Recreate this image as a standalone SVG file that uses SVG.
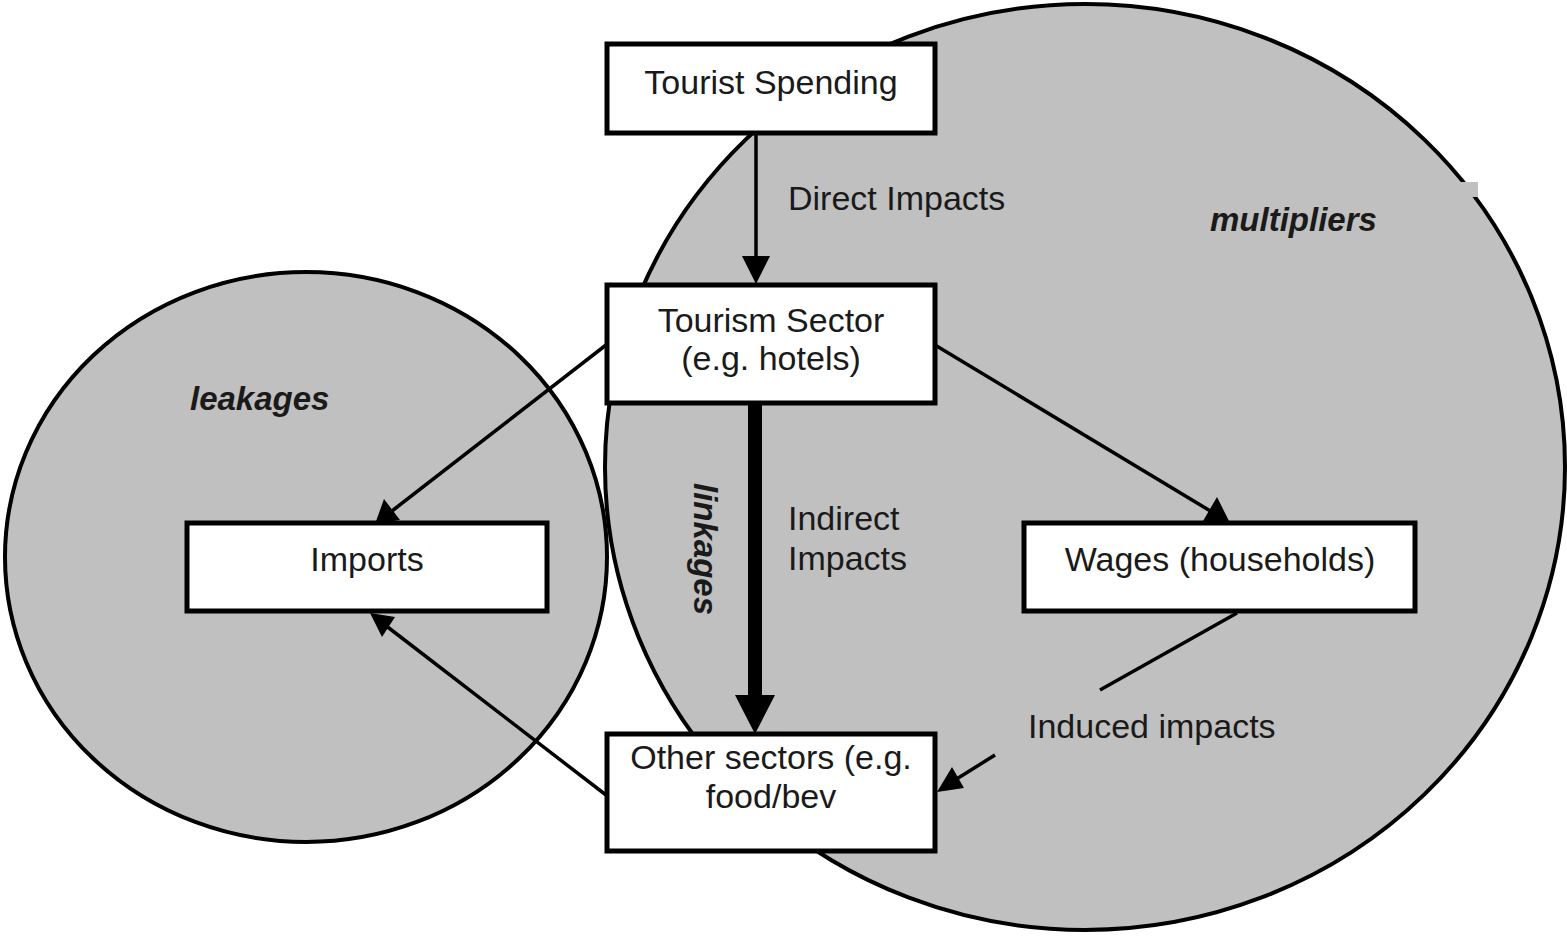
<svg xmlns="http://www.w3.org/2000/svg" width="1567" height="936" viewBox="0 0 1567 936">
<defs>
<style>
.bg{fill:#c0c0c0;stroke:#000;stroke-width:4}
.box{fill:#fff;stroke:#000;stroke-width:5}
.t{font-family:"Liberation Sans",Arial,sans-serif;font-size:34px;fill:#1a1a1a}
.bi{font-family:"Liberation Sans",Arial,sans-serif;font-size:33px;font-weight:bold;font-style:italic;fill:#1a1a1a}
.ln{stroke:#000;stroke-width:3.5;fill:none}
.hd{fill:#000}
</style>
</defs>
<rect width="1567" height="936" fill="#fff"/>
<g id="multipliers-region">
<ellipse class="bg" cx="1085" cy="467" rx="480" ry="463"/>
<rect x="1456" y="182" width="22" height="15" fill="#c0c0c0"/>
<text class="bi" x="1210" y="231">multipliers</text>
</g>
<g id="leakages-region">
<ellipse class="bg" cx="306" cy="557" rx="301" ry="285"/>
<text class="bi" x="190" y="410">leakages</text>
</g>
<g id="connectors">
<line class="ln" x1="756" y1="135" x2="756" y2="262"/>
<polygon class="hd" points="742,256 770,256 756,284"/>
<line class="ln" x1="606" y1="345" x2="392" y2="511"/>
<polygon class="hd" points="375,524 384,499 400,520"/>
<line class="ln" x1="935" y1="345" x2="1212" y2="512"/>
<polygon class="hd" points="1230,523 1203,521 1217,497"/>
<line stroke="#000" stroke-width="14" x1="755" y1="405" x2="755" y2="700"/>
<polygon class="hd" points="735,695 775,695 755,734"/>
<line class="ln" x1="606" y1="795" x2="385" y2="625"/>
<polygon class="hd" points="370,613 395,617 382,637"/>
<line class="ln" x1="1237" y1="613" x2="1100" y2="690"/>
<line class="ln" x1="995" y1="755" x2="955" y2="780"/>
<polygon class="hd" points="937,792 952,767 964,788"/>
<text class="t" x="788" y="210">Direct Impacts</text>
<text class="t" x="788" y="530">Indirect</text>
<text class="t" x="788" y="570">Impacts</text>
<text class="t" x="1028" y="738">Induced impacts</text>
<text class="bi" transform="translate(694,483) rotate(90)">linkages</text>
</g>
<g id="tourist-spending">
<rect class="box" x="607" y="44" width="328" height="89"/>
<text class="t" x="771" y="94" text-anchor="middle">Tourist Spending</text>
</g>
<g id="tourism-sector">
<rect class="box" x="607" y="285" width="328" height="118"/>
<text class="t" x="771" y="332" text-anchor="middle">Tourism Sector</text>
<text class="t" x="771" y="370" text-anchor="middle">(e.g. hotels)</text>
</g>
<g id="imports">
<rect class="box" x="187" y="523" width="360" height="88"/>
<text class="t" x="367" y="571" text-anchor="middle">Imports</text>
</g>
<g id="wages">
<rect class="box" x="1024" y="523" width="391" height="88"/>
<text class="t" x="1220" y="571" text-anchor="middle">Wages (households)</text>
</g>
<g id="other-sectors">
<rect class="box" x="607" y="734" width="328" height="117"/>
<text class="t" x="771" y="769" text-anchor="middle">Other sectors (e.g.</text>
<text class="t" x="771" y="808" text-anchor="middle">food/bev</text>
</g>
</svg>
